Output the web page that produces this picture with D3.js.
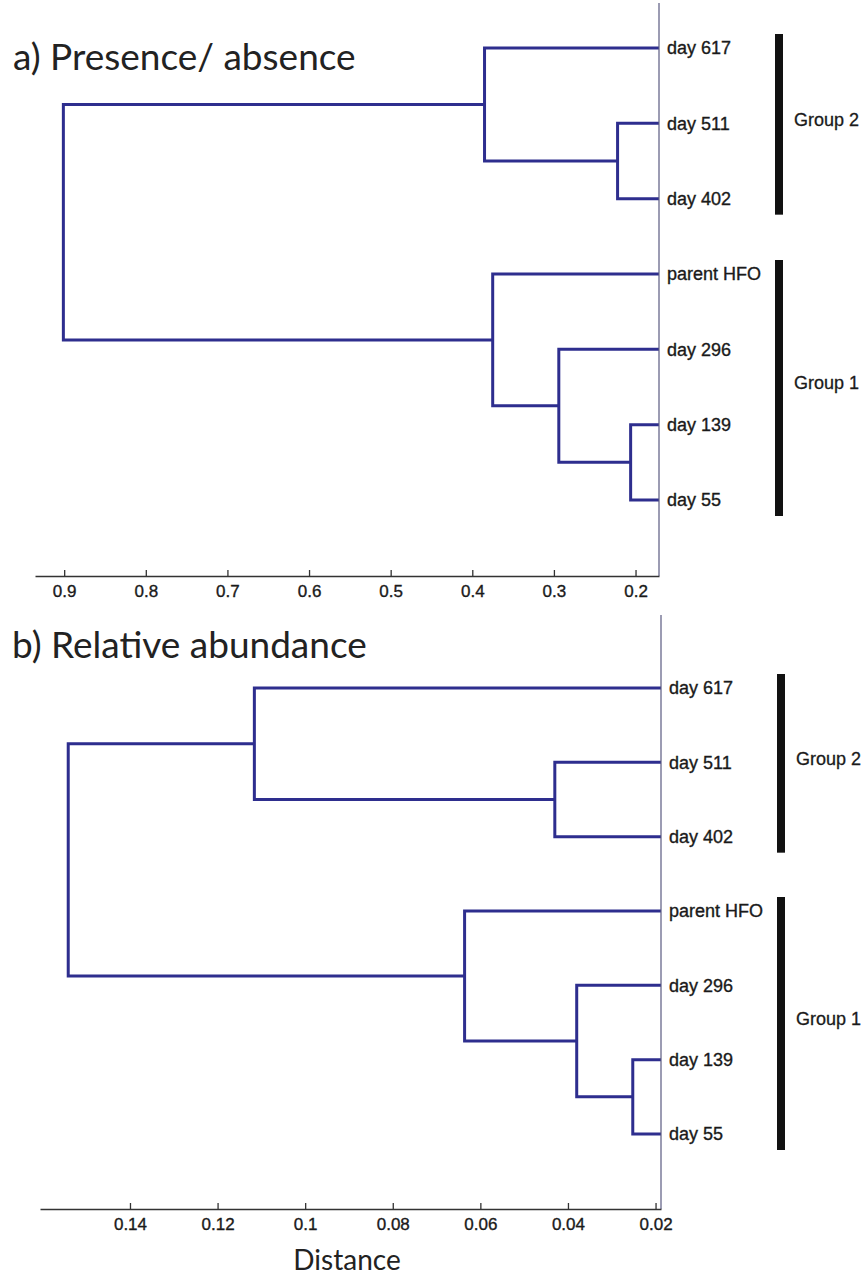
<!DOCTYPE html>
<html>
<head>
<meta charset="utf-8">
<script src="https://cdn.jsdelivr.net/npm/d3@7"></script>
<style>
  html, body { margin: 0; padding: 0; background: #fff; }
  svg { display: block; }
</style>
</head>
<body>
<svg id="chart" width="864" height="1281"></svg>
<script>
// ---- data -------------------------------------------------------------
// Sample labels, in the order the dendrogram lists them from top to bottom
const leafLabels = ["day 617", "day 511", "day 402", "parent HFO", "day 296", "day 139", "day 55"];

// Linkage rows: [clusterA, clusterB, distance]. Leaves are 0..6,
// row i creates cluster 7 + i (MATLAB-style linkage table).
const linkagePresence = [
  [5, 6, 0.206],
  [1, 2, 0.222],
  [4, 7, 0.294],
  [3, 9, 0.375],
  [0, 8, 0.385],
  [11, 10, 0.901]
];
const linkageAbundance = [
  [5, 6, 0.0252],
  [4, 7, 0.0380],
  [1, 2, 0.0430],
  [3, 8, 0.0636],
  [0, 9, 0.1116],
  [11, 10, 0.1541]
];

// Axis ticks
const ticksPresence = [0.9, 0.8, 0.7, 0.6, 0.5, 0.4, 0.3, 0.2];
const tickLabelsPresence = ["0.9", "0.8", "0.7", "0.6", "0.5", "0.4", "0.3", "0.2"];
const ticksAbundance = [0.14, 0.12, 0.1, 0.08, 0.06, 0.04, 0.02];
const tickLabelsAbundance = ["0.14", "0.12", "0.1", "0.08", "0.06", "0.04", "0.02"];

// Sample groups: name, first leaf, last leaf
const groupNames = ["Group 2", "Group 1"];
const groupFirstLeaf = [0, 3];
const groupLastLeaf = [2, 6];

const panelTitles = ["a) Presence/ absence", "b) Relative abundance"];
const xAxisTitle = "Distance";

// ---- layout -------------------------------------------------------------
const svg = d3.select("#chart");
const LINK_COLOR = "#2e2e8e";
const TEXT_FONT = "'Liberation Sans', Arial, sans-serif";
const TITLE_FONT = "Lato, 'Open Sans', sans-serif";

const panels = [
  {
    title: panelTitles[0], linkage: linkagePresence,
    ticks: ticksPresence, tickLabels: tickLabelsPresence,
    xRange: [35, 659], leafRange: [48, 500], axisTop: 3, axisY: 576,
    titleX: 13, titleY: 70, barX: 779
  },
  {
    title: panelTitles[1], linkage: linkageAbundance,
    ticks: ticksAbundance, tickLabels: tickLabelsAbundance,
    xRange: [40, 661], leafRange: [688, 1134], axisTop: 615, axisY: 1209,
    titleX: 12, titleY: 658, barX: 781
  }
];

// Turn a linkage table into a nested tree for d3.hierarchy
function buildTree(linkage, labels) {
  const nodes = labels.map((name, i) => ({ name, index: i, dist: 0 }));
  linkage.forEach(([a, b, d]) => {
    nodes.push({ children: [nodes[a], nodes[b]], dist: d });
  });
  return nodes[nodes.length - 1];
}

panels.forEach(p => {
  const g = svg.append("g");

  const dists = p.linkage.map(r => r[2]);
  const dMin = d3.min(dists), dMax = d3.max(dists);
  const pad = 0.05 * (dMax - dMin);

  // Distance runs right-to-left; leaves sit on the right-hand axis
  const x = d3.scaleLinear()
    .domain([dMax + pad, dMin - pad])
    .range(p.xRange)
    .clamp(true);

  const root = d3.hierarchy(buildTree(p.linkage, leafLabels));
  // d3.cluster gives each leaf a band of equal width; size it so the
  // first and last leaf centres fall on the ends of leafRange
  const nLeaves = root.leaves().length;
  const step = (p.leafRange[1] - p.leafRange[0]) / (nLeaves - 1);
  d3.cluster()
    .size([step * nLeaves, 1])
    .separation(() => 1)(root);
  const yOf = n => p.leafRange[0] - step / 2 + n.x;

  // Dendrogram links: U-shaped connectors per merge
  const merges = root.descendants().filter(n => n.children);
  g.append("g")
    .selectAll("path")
    .data(merges)
    .join("path")
    .attr("fill", "none")
    .attr("stroke", LINK_COLOR)
    .attr("stroke-width", 3)
    .attr("stroke-linejoin", "miter")
    .attr("d", n => {
      const [c1, c2] = n.children;
      const xn = x(n.data.dist);
      return `M${x(c1.data.dist)},${yOf(c1)}H${xn}V${yOf(c2)}H${x(c2.data.dist)}`;
    });

  // Right-hand axis line (leaf axis)
  g.append("line")
    .attr("x1", p.xRange[1]).attr("x2", p.xRange[1])
    .attr("y1", p.axisTop).attr("y2", p.axisY)
    .attr("stroke", "#5a5a80").attr("stroke-width", 1.2);

  // Bottom distance axis
  const axis = d3.axisBottom(x)
    .tickValues(p.ticks)
    .tickFormat((d, i) => p.tickLabels[i])
    .tickSizeInner(-6)
    .tickSizeOuter(0)
    .tickPadding(9);
  const ag = g.append("g")
    .attr("transform", `translate(0,${p.axisY})`)
    .call(axis);
  ag.select(".domain").attr("stroke", "#333").attr("stroke-width", 1.5);
  ag.selectAll(".tick line").attr("stroke", "#333").attr("stroke-width", 1.3);
  ag.selectAll(".tick text")
    .attr("fill", "#1a1a1a")
    .attr("stroke", "#1a1a1a")
    .attr("stroke-width", 0.35)
    .style("font-family", TEXT_FONT)
    .style("font-size", "17px");

  // Leaf labels
  const leaves = root.leaves();
  g.append("g")
    .selectAll("text")
    .data(leaves)
    .join("text")
    .attr("x", p.xRange[1] + 8)
    .attr("y", yOf)
    .attr("dy", "0.36em")
    .attr("fill", "#1a1a1a")
    .attr("stroke", "#1a1a1a")
    .attr("stroke-width", 0.35)
    .style("font-family", TEXT_FONT)
    .style("font-size", "18px")
    .text(n => n.data.name);

  // Group bars and names
  const leafY = i => yOf(leaves.find(l => l.data.index === i));
  groupNames.forEach((name, k) => {
    const y0 = leafY(groupFirstLeaf[k]) - 14;
    const y1 = leafY(groupLastLeaf[k]) + 16;
    g.append("rect")
      .attr("x", p.barX - 4).attr("width", 8)
      .attr("y", y0).attr("height", y1 - y0)
      .attr("fill", "#111");
    g.append("text")
      .attr("x", p.barX + 15)
      .attr("y", (y0 + y1) / 2 - 5)
      .attr("dy", "0.36em")
      .attr("fill", "#1a1a1a")
      .attr("stroke", "#1a1a1a")
      .attr("stroke-width", 0.3)
      .style("font-family", TEXT_FONT)
      .style("font-size", "18px")
      .text(name);
  });

  // Panel title
  svg.append("text")
    .attr("x", p.titleX).attr("y", p.titleY)
    .attr("fill", "#222")
    .style("font-family", TITLE_FONT)
    .style("font-size", "37px")
    .text(p.title);
});

// Shared x-axis title
svg.append("text")
  .attr("x", 347).attr("y", 1270)
  .attr("text-anchor", "middle")
  .attr("fill", "#222")
  .style("font-family", TITLE_FONT)
  .style("font-size", "28px")
  .text(xAxisTitle);
</script>
</body>
</html>
